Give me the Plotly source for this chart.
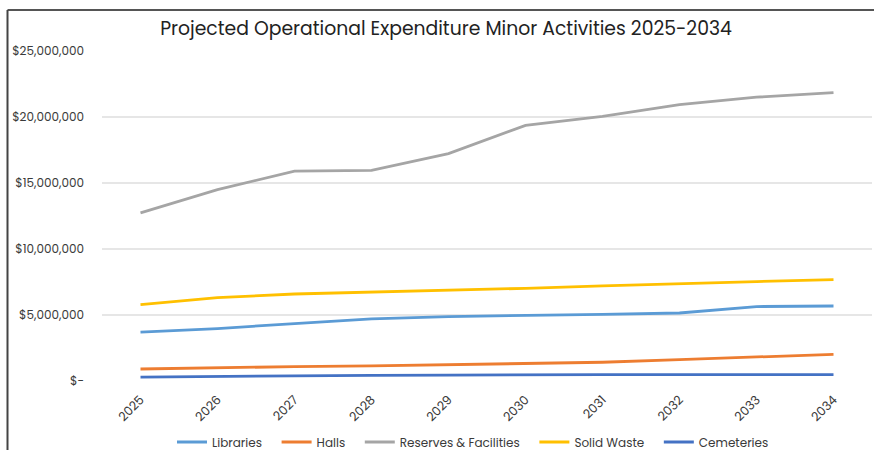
import plotly.graph_objects as go

years = ["2025", "2026", "2027", "2028", "2029", "2030", "2031", "2032", "2033", "2034"]
libraries = [3710000, 3970000, 4350000, 4700000, 4880000, 4950000, 5050000, 5150000, 5640000, 5680000]
halls = [910000, 1010000, 1090000, 1140000, 1240000, 1340000, 1420000, 1620000, 1820000, 2020000]
reserves = [12730000, 14500000, 15900000, 15950000, 17230000, 19370000, 20050000, 20940000, 21500000, 21850000]
solid_waste = [5790000, 6320000, 6590000, 6720000, 6890000, 7020000, 7200000, 7380000, 7530000, 7680000]
cemeteries = [300000, 360000, 410000, 430000, 450000, 490000, 490000, 490000, 490000, 480000]

y_tickvals = [0, 5000000, 10000000, 15000000, 20000000, 25000000]
y_ticktext = ["$-", "$5,000,000", "$10,000,000", "$15,000,000", "$20,000,000", "$25,000,000"]

series_names = ["Libraries", "Halls", "Reserves & Facilities", "Solid Waste", "Cemeteries"]
series_values = [libraries, halls, reserves, solid_waste, cemeteries]
series_colors = ["#5B9BD5", "#ED7D31", "#A5A5A5", "#FFC000", "#4472C4"]

FONT = "Poppins, Lato, 'Open Sans', sans-serif"

fig = go.Figure()
for i, (name, vals, color) in enumerate(zip(series_names, series_values, series_colors)):
    label = name + ("\u00a0\u00a0\u00a0" if i < len(series_names) - 1 else "")
    fig.add_trace(go.Scatter(
        x=years, y=vals, name=label, mode="lines",
        line=dict(color=color, width=2.8),
    ))

fig.update_layout(
    width=874, height=450,
    margin=dict(l=102, r=2, t=51, b=69),
    paper_bgcolor="white", plot_bgcolor="white",
    font=dict(family=FONT, size=12, color="#3A3A3A"),
    title=dict(
        text="Projected Operational Expenditure Minor Activities 2025-2034",
        x=446 / 874, xref="container", xanchor="center",
        y=1 - 28 / 450, yref="container", yanchor="middle",
        font=dict(family=FONT, size=18.8, color="#222222"),
    ),
    showlegend=True,
    legend=dict(
        orientation="h", x=473 / 874, xanchor="center", xref="container",
        y=1 - 442 / 450, yref="container", yanchor="middle",
        font=dict(family=FONT, size=12, color="#3A3A3A"),
        itemwidth=30, tracegroupgap=0,
    ),
    xaxis=dict(
        type="category", range=[-0.5, 9.5],
        showgrid=False, showline=False, zeroline=False,
        tickangle=-45, ticks="", tickfont=dict(size=12.5),
        ticklabelstandoff=8,
    ),
    yaxis=dict(
        range=[0, 25000000],
        tickvals=y_tickvals, ticktext=y_ticktext,
        showgrid=True, gridcolor="#E6E6E6", gridwidth=1.5,
        zeroline=False, showline=False, ticks="",
        ticklabelstandoff=17, tickfont=dict(size=12),
    ),
)

# frame lines (top and left border of the original screenshot)
fig.add_shape(type="line", xref="paper", yref="paper",
              x0=(7.5 - 102) / 770, x1=(880 - 102) / 770,
              y0=(380.7 - 9.8) / 330, y1=(380.7 - 9.8) / 330,
              line=dict(color="#555555", width=2))
fig.add_shape(type="line", xref="paper", yref="paper",
              x0=(7.5 - 102) / 770, x1=(7.5 - 102) / 770,
              y0=(380.7 - 9.8) / 330, y1=(380.7 - 455) / 330,
              line=dict(color="#444444", width=2))

fig.write_html("out.html", config={"displayModeBar": False})
